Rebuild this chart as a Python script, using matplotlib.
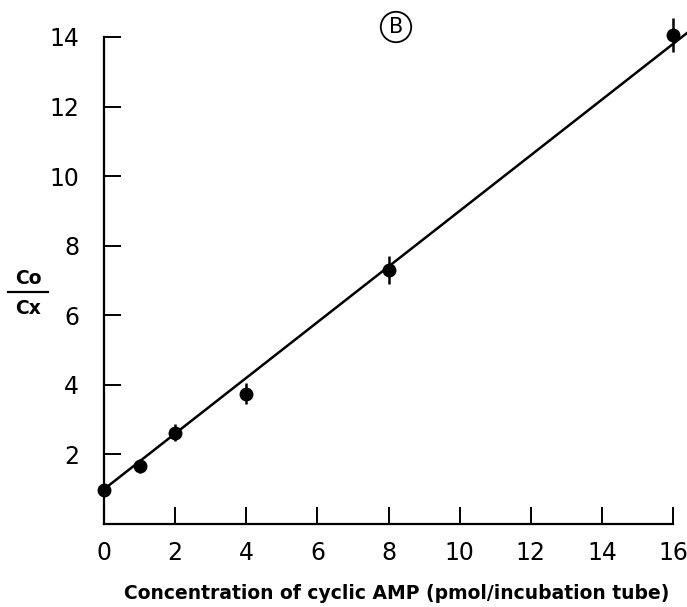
import matplotlib
matplotlib.use("Agg")
import matplotlib.pyplot as plt

# Data
conc = [0, 1, 2, 4, 8, 16]
ratio = [0.97, 1.66, 2.63, 3.75, 7.31, 14.06]
err = [0.0, 0.2, 0.25, 0.3, 0.4, 0.5]
line_x = [0, 16.4]
line_y = [1.0, 14.12]
xticks = [0, 2, 4, 6, 8, 10, 12, 14, 16]
yticks = [2, 4, 6, 8, 10, 12, 14]

W, H = 687, 607
fig = plt.figure(figsize=(W / 100, H / 100), dpi=100)
ax = fig.add_axes([104 / W, 1 - 524 / H, (673 - 104) / W, (524 - 37) / H])
ax.set_xlim(0, 16)
ax.set_ylim(0, 14)

ax.plot(line_x, line_y, color="black", lw=1.8, clip_on=False, zorder=3)
ax.errorbar(conc, ratio, yerr=err, fmt="o", color="black", ms=9,
            elinewidth=1.8, capsize=0, clip_on=False, zorder=4)

for s in ["top", "right"]:
    ax.spines[s].set_visible(False)
for s in ["left", "bottom"]:
    ax.spines[s].set_linewidth(1.6)

ax.set_xticks(xticks)
ax.set_yticks(yticks)
ax.tick_params(axis="both", direction="in", length=12.5, width=1.4,
               labelsize=17, pad=12)
ax.tick_params(axis="y", pad=18)

ax.set_xlabel("Concentration of cyclic AMP (pmol/incubation tube)",
              fontsize=13.5, fontweight="bold", labelpad=14)
ax.xaxis.label.set_x(0.5 + 8 / 569)

# Y label as a fraction
fig.text(28 / W, 1 - 279 / H, "Co", ha="center", va="center",
         fontsize=13.5, fontweight="bold")
fig.text(28 / W, 1 - 308 / H, "Cx", ha="center", va="center",
         fontsize=13.5, fontweight="bold")
fig.add_artist(plt.Line2D([8 / W, 48 / W], [1 - 292 / H, 1 - 292 / H],
                          color="black", lw=1.6))

# Panel marker
fig.text(396 / W, 1 - 27 / H, "B", ha="center", va="center", fontsize=15,
         bbox=dict(boxstyle="circle,pad=0.25", fc="white", ec="black", lw=1.3))

fig.savefig("out.png", dpi=100)
